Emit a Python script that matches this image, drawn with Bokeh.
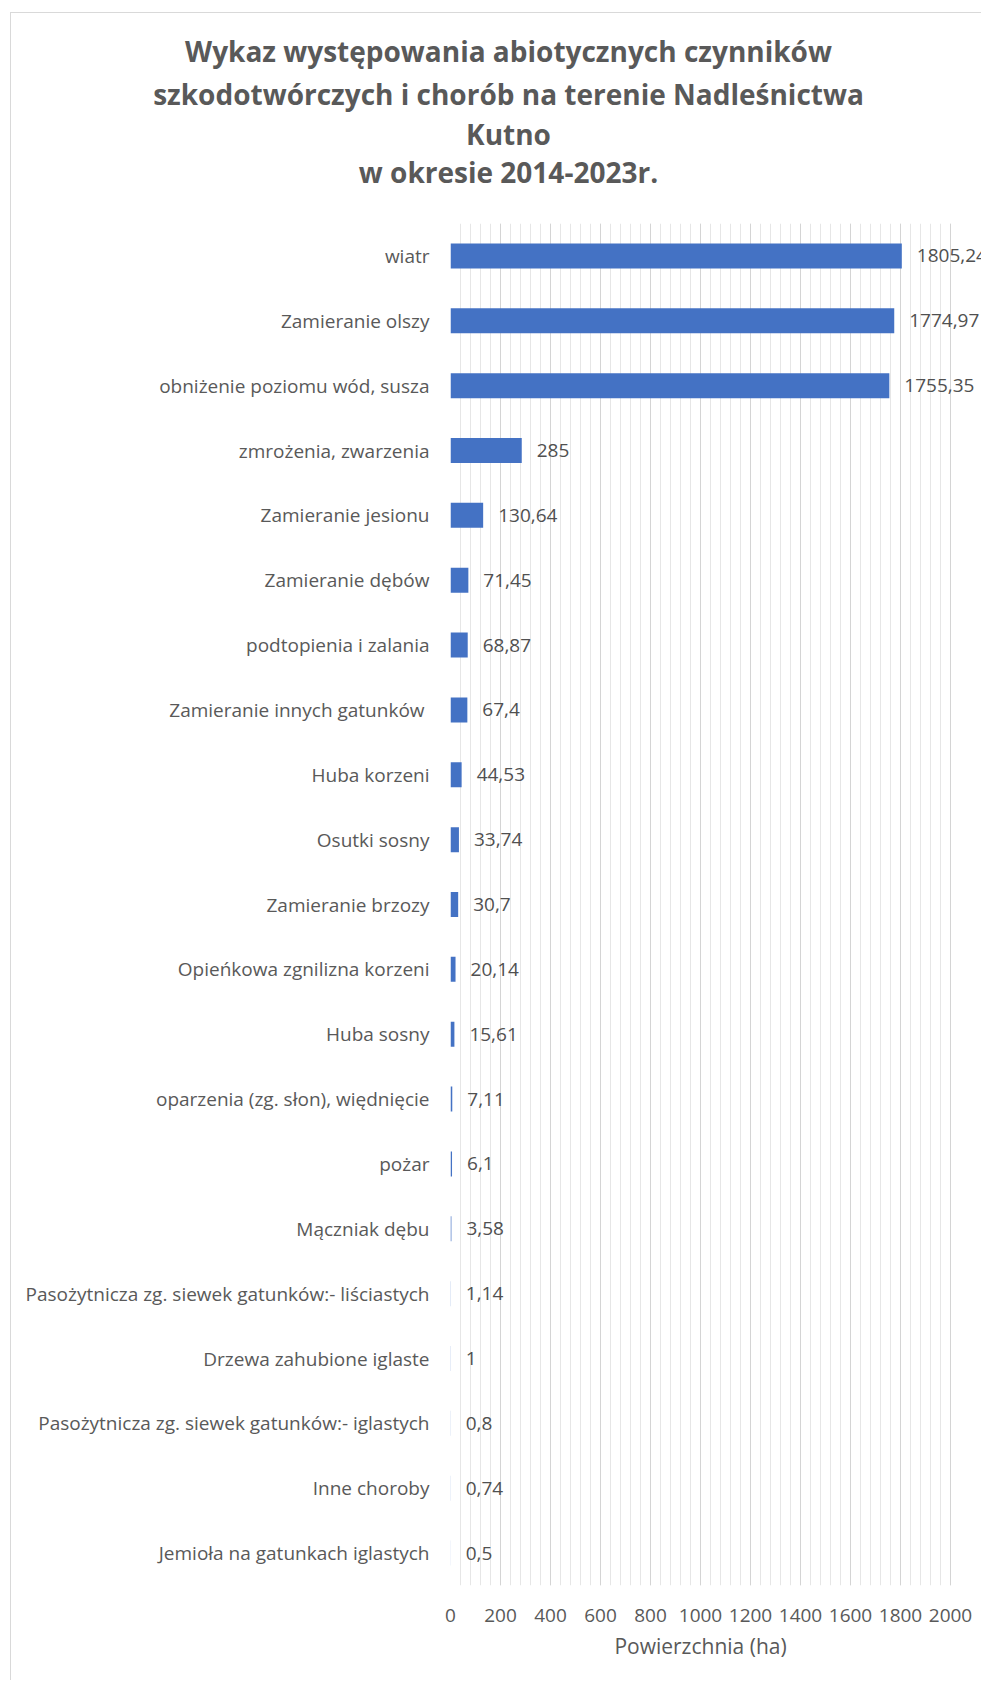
from bokeh.plotting import figure
from bokeh.layouts import column
from bokeh.models import ColumnDataSource, Range1d, FixedTicker, LabelSet
from bokeh.core.properties import value
from bokeh.embed import file_html
from bokeh.resources import INLINE

categories = [
    "wiatr",
    "Zamieranie olszy",
    "obniżenie poziomu wód, susza",
    "zmrożenia, zwarzenia",
    "Zamieranie jesionu",
    "Zamieranie dębów",
    "podtopienia i zalania",
    "Zamieranie innych gatunków ",
    "Huba korzeni",
    "Osutki sosny",
    "Zamieranie brzozy",
    "Opieńkowa zgnilizna korzeni",
    "Huba sosny",
    "oparzenia (zg. słon), więdnięcie",
    "pożar",
    "Mączniak dębu",
    "Pasożytnicza zg. siewek gatunków:- liściastych",
    "Drzewa zahubione iglaste",
    "Pasożytnicza zg. siewek gatunków:- iglastych",
    "Inne choroby",
    "Jemioła na gatunkach iglastych",
]
values = [1805.24, 1774.97, 1755.35, 285, 130.64, 71.45, 68.87, 67.4, 44.53,
          33.74, 30.7, 20.14, 15.61, 7.11, 6.1, 3.58, 1.14, 1, 0.8, 0.74, 0.5]
title_lines = [
    "Wykaz występowania abiotycznych czynników",
    "szkodotwórczych i chorób na terenie Nadleśnictwa",
    "Kutno",
    "w okresie 2014-2023r.",
]
x_title = "Powierzchnia (ha)"
x_ticks = [0, 200, 400, 600, 800, 1000, 1200, 1400, 1600, 1800, 2000]
x_minor_ticks = list(range(0, 2001, 40))

FONT = "Open Sans"
GREY = "#595959"

n = len(categories)
ypos = [n - 1 - i for i in range(n)]
labels = [f"{v:g}".replace(".", ",") for v in values]

OX, OY = 11, 13          # page position of the layout's content
W = 970


def text_panel(top, height):
    """A figure whose data coordinates are page pixels."""
    f = figure(width=W, height=height, output_backend="svg",
               toolbar_location=None,
               x_range=Range1d(OX, OX + W), y_range=Range1d(top + height, top),
               min_border=0, x_axis_type=None, y_axis_type=None)
    f.frame_align = False
    f.outline_line_color = None
    f.grid.visible = False
    return f


# ---- title ----
TH = 199
tp = text_panel(OY, TH)
tsrc = ColumnDataSource(dict(x=[508] * 4, y=[50, 93, 133, 171], t=title_lines))
tp.text(x="x", y="y", text="t", source=tsrc, text_align="center",
        text_baseline="middle", text_font=value(FONT), text_font_style="bold",
        text_font_size="28px", text_color=GREY)

# ---- main chart ----
MH = 1420
ML, MT, MB = 439, 11, 47
x_end = (W - ML) / 0.25

src = ColumnDataSource(dict(y=ypos, v=values, lab=labels))
p = figure(width=W, height=MH, output_backend="svg", toolbar_location=None,
           x_range=Range1d(0, x_end), y_range=Range1d(-0.5, n - 0.5),
           min_border_left=ML, min_border_right=0, min_border_top=MT,
           min_border_bottom=MB)
p.frame_align = False
p.outline_line_color = None

p.hbar(y="y", right="v", left=0, height=0.385, source=src,
       fill_color="#4472C4", line_color=None)

p.add_layout(LabelSet(x="v", y="y", text="lab", source=src, x_offset=15,
                      text_baseline="middle", text_font=value(FONT),
                      text_font_size="19px", text_color="#505050"))

p.xaxis.ticker = FixedTicker(ticks=x_ticks, minor_ticks=x_minor_ticks)
p.xaxis.axis_line_color = None
p.xaxis.major_tick_line_color = None
p.xaxis.minor_tick_line_color = None
p.xaxis.major_label_text_font = FONT
p.xaxis.major_label_text_font_size = "19px"
p.xaxis.major_label_text_color = GREY
p.xaxis.major_label_standoff = 17

p.yaxis.ticker = FixedTicker(ticks=ypos)
p.yaxis.major_label_overrides = {y: c for y, c in zip(ypos, categories)}
p.yaxis.axis_line_color = None
p.yaxis.major_tick_line_color = None
p.yaxis.minor_tick_line_color = None
p.yaxis.major_label_text_font = FONT
p.yaxis.major_label_text_font_size = "19px"
p.yaxis.major_label_text_color = GREY
p.yaxis.major_label_standoff = 15

p.ygrid.grid_line_color = None
p.xgrid.bounds = (-10, 2010)
p.xgrid.grid_line_color = "#d4d4d4"
p.xgrid.minor_grid_line_color = "#e6e6e6"

# ---- x-axis title, centred under the 0-2000 scale ----
AT = OY + TH + MH
ap = text_panel(AT, 48)
asrc = ColumnDataSource(dict(x=[700], y=[1645], t=[x_title]))
ap.text(x="x", y="y", text="t", source=asrc, text_align="center",
        text_baseline="middle", text_font=value(FONT),
        text_font_size="21px", text_color=GREY)

layout = column(tp, p, ap, spacing=0,
                styles={"margin-left": "10px", "margin-top": "12px",
                        "border-left": "1px solid #d9d9d9",
                        "border-top": "1px solid #d9d9d9"})

open("out.html", "w").write(file_html(layout, INLINE))
